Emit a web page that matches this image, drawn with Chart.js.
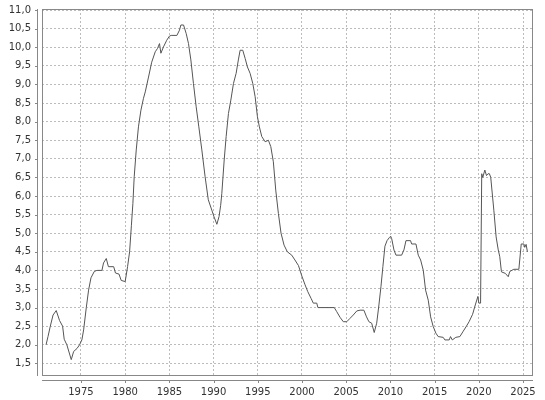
<!DOCTYPE html>
<html>
<head>
<meta charset="utf-8">
<script src="https://cdn.jsdelivr.net/npm/chart.js@4/dist/chart.umd.min.js"></script>
<style>
  html, body { margin: 0; padding: 0; background: #fff; }
  #wrap { width: 545px; height: 400px; }
</style>
</head>
<body>
<div id="wrap"><canvas id="chart" width="545" height="400"></canvas></div>
<script>
// decimal years and values
const dates = [
  1971.05, 1971.27, 1971.53, 1971.84, 1972.2, 1972.58, 1972.92, 1973.1, 1973.4, 1973.9,
  1974.17, 1974.55, 1974.84, 1975.1, 1975.3, 1975.6, 1975.86, 1976.13, 1976.5, 1976.8,
  1977.37, 1977.55, 1977.86, 1978.1, 1978.7, 1978.9, 1979.3, 1979.55, 1980.0, 1980.27,
  1980.5, 1980.7, 1980.87, 1981.02, 1981.25, 1981.5, 1981.78, 1982.07, 1982.27, 1982.64,
  1983.0, 1983.4, 1983.66, 1983.88, 1984.04, 1984.33, 1984.7, 1985.0, 1985.2, 1985.85,
  1986.14, 1986.3, 1986.6, 1986.9, 1987.16, 1987.43, 1987.72, 1988.03, 1988.33, 1988.67,
  1989.04, 1989.4, 1989.8, 1990.05, 1990.37, 1990.62, 1990.8, 1990.93, 1991.2, 1991.42,
  1991.68, 1991.95, 1992.25, 1992.55, 1992.8, 1993.0, 1993.3, 1993.57, 1993.83, 1994.13,
  1994.43, 1994.7, 1994.96, 1995.18, 1995.45, 1995.83, 1996.2, 1996.47, 1996.76, 1997.03,
  1997.33, 1997.63, 1997.97, 1998.34, 1998.84, 1999.2, 1999.6, 1999.98, 2000.35, 2000.65,
  2001.02, 2001.28, 2001.67, 2001.8, 2002.15, 2003.65, 2003.93, 2004.3, 2004.67, 2005.06,
  2005.43, 2005.8, 2006.2, 2006.57, 2007.0, 2007.3, 2007.57, 2007.88, 2008.17, 2008.45,
  2008.7, 2008.93, 2009.15, 2009.38, 2009.62, 2009.87, 2010.03, 2010.15, 2010.4, 2010.63,
  2011.27, 2011.53, 2011.76, 2012.28, 2012.4, 2012.89, 2013.15, 2013.42, 2013.72, 2013.98,
  2014.28, 2014.55, 2014.84, 2015.15, 2015.4, 2015.97, 2016.16, 2016.65, 2016.8, 2017.0,
  2017.4, 2017.86, 2018.2, 2018.6, 2018.9, 2019.3, 2019.6, 2019.9, 2020.0, 2020.2,
  2020.33, 2020.45, 2020.68, 2020.87, 2021.05, 2021.2, 2021.35, 2021.7, 2021.96, 2022.2,
  2022.37, 2022.56, 2023.0, 2023.33, 2023.5, 2023.96, 2024.53, 2024.8, 2025.1, 2025.2,
  2025.35, 2025.5
];
const rates = [
  2.0, 2.22, 2.5, 2.8, 2.92, 2.65, 2.5, 2.15, 2.0, 1.6,
  1.82, 1.9, 2.0, 2.13, 2.4, 3.0, 3.47, 3.8, 3.97, 4.0,
  4.0, 4.2, 4.32, 4.1, 4.1, 3.93, 3.9, 3.73, 3.7, 4.1,
  4.5, 5.2, 5.8, 6.52, 7.24, 7.86, 8.31, 8.63, 8.8, 9.2,
  9.6, 9.88, 9.97, 10.1, 9.84, 10.01, 10.19, 10.3, 10.32, 10.32,
  10.46, 10.6, 10.6, 10.37, 10.1, 9.66, 9.03, 8.4, 7.86, 7.24,
  6.52, 5.9, 5.62, 5.44, 5.24, 5.45, 5.75, 6.07, 6.97, 7.6,
  8.22, 8.58, 9.03, 9.3, 9.66, 9.92, 9.92, 9.7, 9.47, 9.3,
  9.03, 8.67, 8.13, 7.86, 7.6, 7.46, 7.5, 7.33, 6.92, 6.16,
  5.53, 5.0, 4.68, 4.5, 4.41, 4.28, 4.13, 3.85, 3.61, 3.43,
  3.25, 3.12, 3.12, 3.0, 3.0, 3.0, 2.89, 2.74, 2.62, 2.62,
  2.71, 2.8, 2.91, 2.93, 2.93, 2.75, 2.62, 2.58, 2.33, 2.58,
  3.07, 3.56, 4.1, 4.65, 4.8, 4.88, 4.92, 4.85, 4.55, 4.41,
  4.41, 4.55, 4.8, 4.8, 4.71, 4.71, 4.41, 4.28, 4.0, 3.47,
  3.2, 2.75, 2.49, 2.31, 2.22, 2.2, 2.13, 2.13, 2.22, 2.13,
  2.2, 2.22, 2.35, 2.5, 2.62, 2.82, 3.07, 3.3, 3.12, 3.12,
  6.6, 6.5, 6.7, 6.55, 6.6, 6.6, 6.5, 5.62, 4.9, 4.55,
  4.37, 3.96, 3.92, 3.83, 3.97, 4.03, 4.03, 4.71, 4.71, 4.62,
  4.7, 4.5
];
const xTicks = [1975, 1980, 1985, 1990, 1995, 2000, 2005, 2010, 2015, 2020, 2025];
const yTicks = [1.5, 2.0, 2.5, 3.0, 3.5, 4.0, 4.5, 5.0, 5.5, 6.0, 6.5, 7.0, 7.5, 8.0, 8.5, 9.0, 9.5, 10.0, 10.5, 11.0];

const points = dates.map((d, i) => ({ x: d, y: rates[i] }));

// plot frame, offset axis lines and their small tick marks
const frame = {
  id: 'frame',
  afterDraw(chart) {
    const { ctx, chartArea: a, scales } = chart;
    const l = Math.round(a.left), t = Math.round(a.top);
    const r = Math.round(a.right), b = Math.round(a.bottom);
    ctx.save();
    ctx.strokeStyle = '#888';
    ctx.lineWidth = 1;
    ctx.strokeRect(l + 0.5, t + 0.5, r - l - 1, b - t - 1);
    ctx.beginPath();
    ctx.moveTo(l - 4.5, t);
    ctx.lineTo(l - 4.5, b);
    ctx.moveTo(l, b + 4.5);
    ctx.lineTo(r, b + 4.5);
    xTicks.forEach(v => {
      const x = Math.round(scales.x.getPixelForValue(v)) + 0.5;
      ctx.moveTo(x, b + 4);
      ctx.lineTo(x, b + 7);
    });
    yTicks.forEach(v => {
      const y = Math.round(scales.y.getPixelForValue(v)) + 0.5;
      ctx.moveTo(l - 4, y);
      ctx.lineTo(l - 7, y);
    });
    ctx.stroke();
    ctx.restore();
  }
};

Chart.defaults.font.family = "'DejaVu Sans', sans-serif";
Chart.defaults.font.size = 10;
Chart.defaults.color = '#333';

new Chart(document.getElementById('chart'), {
  type: 'line',
  data: {
    datasets: [{
      data: points,
      borderColor: '#555',
      borderWidth: 1,
      pointRadius: 0,
      tension: 0,
      fill: false
    }]
  },
  options: {
    responsive: false,
    animation: false,
    layout: { padding: { top: 9, right: 12, left: 0, bottom: 0 } },
    plugins: { legend: { display: false }, tooltip: { enabled: false } },
    scales: {
      x: {
        type: 'linear',
        min: 1970.59,
        max: 2026.13,
        afterBuildTicks: s => { s.ticks = xTicks.map(v => ({ value: v })); },
        afterFit: s => { s.height = 24; s.paddingLeft = 0; s.paddingRight = 0; },
        ticks: { padding: 10, callback: v => String(v), maxRotation: 0 },
        grid: { display: true, color: '#bcbcbc', lineWidth: 1, drawTicks: false },
        border: { display: false, dash: [2, 2] }
      },
      y: {
        min: 1.16,
        max: 11.03,
        afterBuildTicks: s => { s.ticks = yTicks.map(v => ({ value: v })); },
        afterFit: s => { s.width = 42; s.paddingTop = 0; s.paddingBottom = 0; },
        ticks: { padding: 11, callback: v => v.toFixed(1).replace('.', ',') },
        grid: { display: true, color: '#bcbcbc', lineWidth: 1, drawTicks: false },
        border: { display: false, dash: [2, 2] }
      }
    }
  },
  plugins: [frame]
});
</script>
</body>
</html>
